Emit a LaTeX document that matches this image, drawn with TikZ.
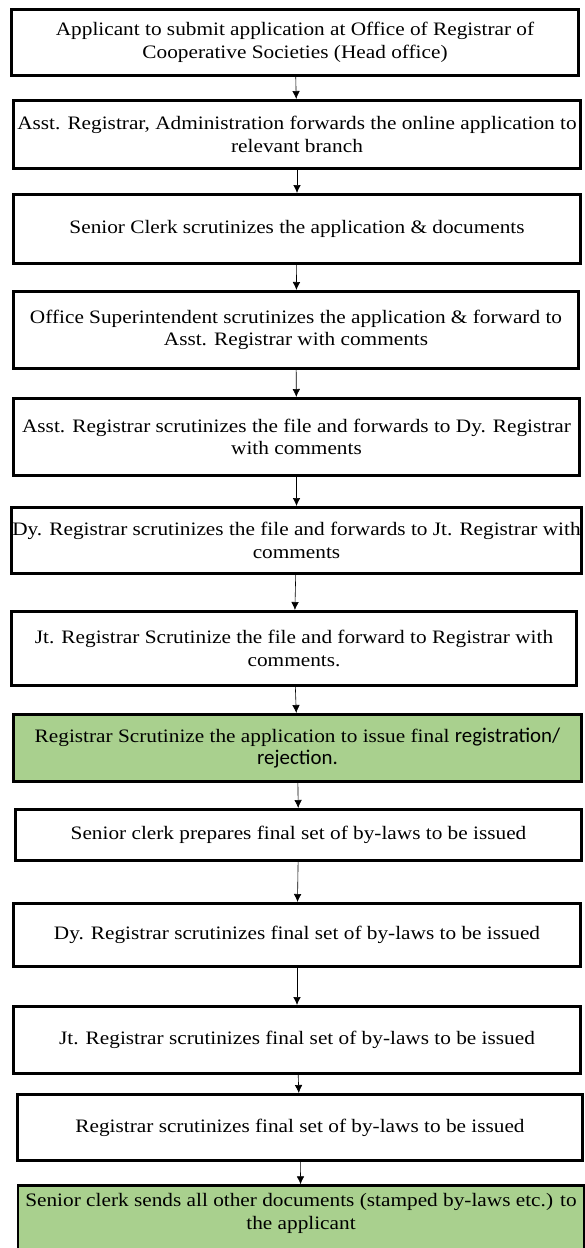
\documentclass[tikz,border=0pt]{standalone}
\usepackage{fontspec}
\setmainfont{Liberation Serif}[FakeStretch=1.12]
\newfontfamily\calibfont{Carlito}[Scale=1.1]
\usetikzlibrary{arrows.meta}
\definecolor{stepgreen}{RGB}{169,208,142}

\begin{document}
\begin{tikzpicture}[x=1pt,y=-1pt,
stepbox/.style={draw,rectangle,line width=2.6pt,inner xsep=0pt,align=center,
    font=\fontsize{19}{22.5}\selectfont},
greenbox/.style={stepbox,fill=stepgreen},
flow/.style={-{Latex[length=8pt,width=7.5pt]},line width=0.6pt}]
\useasboundingbox (0,0) rectangle (585,1248);

\node (apply) [stepbox,minimum width=567.4,minimum height=66.4] at (295,42.5)
    {Applicant to submit application at Office of Registrar of\\Cooperative Societies (Head office)};
\node (astadm) [stepbox,minimum width=567.4,minimum height=68.4] at (297,134.5)
    {Asst. Registrar, Administration forwards the online application to\\relevant branch};
\node (clerk) [stepbox,minimum width=567.4,minimum height=69.4] at (297,229)
    {Senior Clerk scrutinizes the application \& documents};
\node (super) [stepbox,minimum width=565.4,minimum height=77.4] at (296,330)
    {Office Superintendent scrutinizes the application \& forward to\\Asst. Registrar with comments};
\node (astreg) [stepbox,minimum width=566.4,minimum height=77.4] at (296.5,437)
    {Asst. Registrar scrutinizes the file and forwards to Dy. Registrar\\with comments};
\node (dyreg) [stepbox,minimum width=570.4,minimum height=66.4] at (296.5,540.5)
    {Dy. Registrar scrutinizes the file and forwards to Jt. Registrar with\\comments};
\node (jtreg) [stepbox,minimum width=565.4,minimum height=74.4] at (294,648.5)
    {Jt. Registrar Scrutinize the file and forward to Registrar with\\comments.};
\node (reg) [greenbox,minimum width=568.4,minimum height=67.4] at (297.5,748)
    {Registrar Scrutinize the application to issue final {\calibfont registration/}\\{\calibfont rejection.}};
\node (clerkbl) [stepbox,minimum width=566.4,minimum height=51.4] at (298.5,835)
    {Senior clerk prepares final set of by-laws to be issued};
\node (dybl) [stepbox,minimum width=567.4,minimum height=63.4] at (297,935)
    {Dy. Registrar scrutinizes final set of by-laws to be issued};
\node (jtbl) [stepbox,minimum width=567.4,minimum height=67.4] at (297,1040)
    {Jt. Registrar scrutinizes final set of by-laws to be issued};
\node (regbl) [stepbox,minimum width=565.4,minimum height=66.4] at (300,1127.5)
    {Registrar scrutinizes final set of by-laws to be issued};
\node (send) [greenbox,minimum width=566.4,anchor=north,inner ysep=8pt,text depth=34pt] at (301,1184.3)
    {Senior clerk sends all other documents (stamped by-laws etc.) to\\the applicant};

\draw [flow] (apply) -- (astadm);
\draw [flow] (astadm) -- (clerk);
\draw [flow] (clerk) -- (super);
\draw [flow] (super) -- (astreg);
\draw [flow] (astreg) -- (dyreg);
\draw [flow] (dyreg) -- (jtreg);
\draw [flow] (jtreg) -- (reg);
\draw [flow] (reg) -- (clerkbl);
\draw [flow] (clerkbl) -- (dybl);
\draw [flow] (dybl) -- (jtbl);
\draw [flow] (jtbl) -- (regbl);
\draw [flow] (regbl) -- (send);
\end{tikzpicture}
\end{document}
